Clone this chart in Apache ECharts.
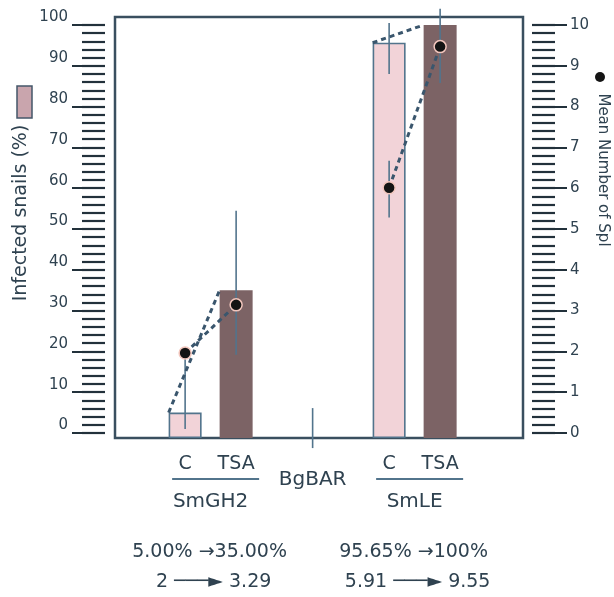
<!DOCTYPE html>
<html><head><meta charset="utf-8">
<script src="https://cdn.jsdelivr.net/npm/echarts@6/dist/echarts.min.js"></script>
<style>html,body{margin:0;padding:0;background:#fff}#c{width:614px;height:597px}</style>
</head><body><div id="c"></div>
<script>
// ---------- data ----------
const categories = ['C', 'TSA', 'BgBAR', 'C', 'TSA'];
const groupNames = ['SmGH2', 'SmLE'];
const infectedPct = [5.00, 35.00, null, 95.65, 100];
const meanSpl = [1.96, 3.14, null, 6.01, 9.47];
const pctErrLow = [null, null, -3.7, 88, null];
const pctErrHigh = [null, null, 6.1, 100.5, null];
const splErrLow = [0.1, 1.92, null, 5.28, 8.58];
const splErrHigh = [1.96, 5.45, null, 6.67, 10.4];
const pctTicks = [0, 10, 20, 30, 40, 50, 60, 70, 80, 90, 100];
const splTicks = [0, 1, 2, 3, 4, 5, 6, 7, 8, 9, 10];
const summaryPct = ['5.00% \u219235.00%', '95.65% \u2192100%'];
const summarySpl = ['2 \u2500\u2500\u2500\u25BA 3.29', '5.91 \u2500\u2500\u2500\u25BA 9.55'];
const leftTitle = 'Infected snails (%)';
const rightTitle = 'Mean Number of Spl';

// ---------- layout ----------
const NS = 32;
const slotOf = [5, 9, 15, 21, 25];
const groupMembers = [[0, 1], [3, 4]];
const groupSlot = [7, 23];
const BAR_W = 33;
const PCT_MIN = -1.23, PCT_MAX = 101.96;
const SPL_MIN = -0.123, SPL_MAX = 10.196;
const INK = '#2f4250', TICK = '#22313b', BLUE = '#52748c', DASH = '#3a566d';
const FONT = 'DejaVu Sans';

const slots = Array.from({length: NS}, (_, i) => 's' + i);
const slotLabel = {}; categories.forEach((c, i) => slotLabel[slots[slotOf[i]]] = c);
const groupLabel = {}; groupNames.forEach((g, i) => groupLabel[slots[groupSlot[i]]] = g);
function spread(arr, pred) {
  const out = new Array(NS).fill(null);
  arr.forEach((v, i) => { if (pred(i) && v != null) out[slotOf[i]] = v; });
  return out;
}
const pctMinor = []; for (let v = 0; v <= 100; v += 2) pctMinor.push(v);
const splMinor = []; for (let k = 0; k <= 50; k++) splMinor.push(k / 5);

function errData(lo, hi) {
  const d = [];
  lo.forEach((l, i) => { if (l != null && hi[i] != null) d.push([slotOf[i], l, hi[i]]); });
  return d;
}
function errRender(params, api) {
  const a = api.coord([api.value(0), api.value(1)]);
  const b = api.coord([api.value(0), api.value(2)]);
  return {type: 'line', shape: {x1: a[0], y1: a[1], x2: b[0], y2: b[1]},
    style: {stroke: BLUE, lineWidth: 1.6}};
}

const series = [
  {name: 'C', type: 'bar', data: spread(infectedPct, i => categories[i] === 'C'),
   barWidth: BAR_W, barGap: '-100%', z: 2,
   itemStyle: {color: '#f2d3d8', borderColor: BLUE, borderWidth: 1.6}},
  {name: 'TSA', type: 'bar', data: spread(infectedPct, i => categories[i] === 'TSA'),
   barWidth: BAR_W, barGap: '-100%', z: 2,
   itemStyle: {color: '#7c6365'}},
  {type: 'custom', xAxisIndex: 0, yAxisIndex: 0, clip: false, z: 3,
   encode: {x: 0, y: [1, 2]}, data: errData(pctErrLow, pctErrHigh), renderItem: errRender},
  {type: 'custom', xAxisIndex: 0, yAxisIndex: 2, clip: false, z: 3,
   encode: {x: 0, y: [1, 2]}, data: errData(splErrLow, splErrHigh), renderItem: errRender},
  {type: 'custom', xAxisIndex: 0, yAxisIndex: 0, clip: false, z: 4,
   encode: {x: [0, 2], y: [1, 3]},
   data: groupMembers.map(([c, t]) => [slotOf[c], infectedPct[c], slotOf[t], infectedPct[t]]),
   renderItem: (params, api) => {
     const p1 = api.coord([api.value(0), api.value(1)]);
     const p2 = api.coord([api.value(2), api.value(3)]);
     return {type: 'line',
       shape: {x1: p1[0] - BAR_W / 2, y1: p1[1], x2: p2[0] - BAR_W / 2, y2: p2[1]},
       style: {stroke: DASH, lineWidth: 3, lineDash: [5, 4]}};
   }}
];
groupMembers.forEach(([c, t]) => {
  series.push({type: 'line', yAxisIndex: 2, z: 5,
    data: [[slotOf[c], meanSpl[c]], [slotOf[t], meanSpl[t]]],
    symbol: 'circle', symbolSize: 12,
    itemStyle: {color: '#141414', borderColor: '#f2c6bd', borderWidth: 1.5},
    lineStyle: {color: DASH, width: 3, type: [5, 4]}});
});

function yAx(pos, min, max, ticks, len, labels, margin) {
  return {type: 'value', position: pos, min: min, max: max, offset: pos === 'left' ? 10 : 9,
    startValue: min,
    axisLine: {show: false}, splitLine: {show: false},
    axisTick: {show: true, customValues: ticks, length: len, lineStyle: {color: TICK, width: 2.2}},
    axisLabel: labels ? {show: true, customValues: ticks, margin: margin, color: INK,
      fontFamily: FONT, fontSize: 15,
      verticalAlign: pos === 'left' ? 'bottom' : 'middle',
      padding: pos === 'left' ? [0, 0, 0, 0] : [0, 0, 6, 0]} : {show: false}};
}

const chart = echarts.init(document.getElementById('c'), null, {renderer: 'canvas'});
chart.setOption({
  animation: false,
  backgroundColor: '#ffffff',
  grid: {left: 115, top: 17, width: 408, height: 421, show: true,
    borderColor: '#3a4f5f', borderWidth: 2.5, backgroundColor: 'transparent'},
  xAxis: [
    {type: 'category', data: slots, boundaryGap: true,
     axisLine: {show: false}, axisTick: {show: false}, splitLine: {show: false},
     axisLabel: {interval: 0, margin: 17, color: INK, fontFamily: FONT, fontSize: 19,
       formatter: s => slotLabel[s] === 'BgBAR' ? '{low|BgBAR}' : (slotLabel[s] || ''),
       rich: {low: {lineHeight: 50, fontFamily: FONT, fontSize: 20, color: INK}}}},
    {type: 'category', data: slots, position: 'bottom', offset: 44,
     axisLine: {show: false}, axisTick: {show: false}, splitLine: {show: false},
     axisLabel: {interval: 0, margin: 10, color: INK, fontFamily: FONT, fontSize: 20,
       formatter: s => groupLabel[s] || ''}}
  ],
  yAxis: [
    yAx('left', PCT_MIN, PCT_MAX, pctTicks, 33, true, 37),
    yAx('left', PCT_MIN, PCT_MAX, pctMinor, 23, false),
    yAx('right', SPL_MIN, SPL_MAX, splTicks, 35, true, 38),
    yAx('right', SPL_MIN, SPL_MAX, splMinor, 23, false)
  ],
  series: series
});

// annotations placed through the category axis
const px = s => chart.convertToPixel({xAxisIndex: 0}, s);
const graphics = [];
groupMembers.forEach(([c, t], g) => {
  const x1 = px(slotOf[c]) - 13, x2 = px(slotOf[t]) + 23;
  graphics.push({type: 'line', shape: {x1: x1, y1: 479, x2: x2, y2: 479},
    style: {stroke: BLUE, lineWidth: 2}});
  const cx = (px(slotOf[c]) + px(slotOf[t])) / 2;
  graphics.push({type: 'text', x: cx - 1, y: 552,
    style: {text: summaryPct[g], font: '19px "' + FONT + '"', fill: INK, align: 'center', verticalAlign: 'middle'}});
  graphics.push({type: 'text', x: cx + 3, y: 582,
    style: {text: summarySpl[g], font: '19px "' + FONT + '"', fill: INK, align: 'center', verticalAlign: 'middle'}});
});
graphics.push({type: 'rect', shape: {x: 17, y: 86, width: 15, height: 32},
  style: {fill: '#c9a5ad', stroke: '#44576a', lineWidth: 1.5}});
graphics.push({type: 'text', x: 21, y: 213, rotation: Math.PI / 2,
  style: {text: leftTitle, font: '19px "' + FONT + '"', fill: INK, align: 'center', verticalAlign: 'middle'}});
graphics.push({type: 'circle', shape: {cx: 600, cy: 77, r: 5}, style: {fill: '#141414'}});
graphics.push({type: 'text', x: 603, y: 170, rotation: -Math.PI / 2,
  style: {text: rightTitle, font: '15px "' + FONT + '"', fill: INK, align: 'center', verticalAlign: 'middle'}});
chart.setOption({graphic: graphics});
</script>
</body></html>
